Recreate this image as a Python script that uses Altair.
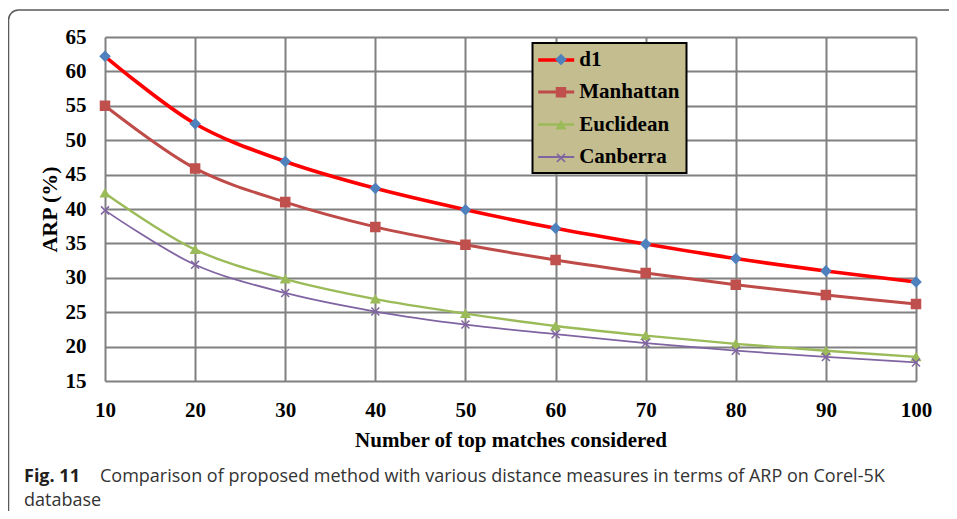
import altair as alt
import pandas as pd

# ---- data ----
top_matches = [10, 20, 30, 40, 50, 60, 70, 80, 90, 100]
series_names = ["d1", "Manhattan", "Euclidean", "Canberra"]
d1 = [62.2, 52.4, 46.9, 43.0, 39.9, 37.2, 34.9, 32.8, 31.0, 29.4]
manhattan = [55.0, 45.9, 41.0, 37.4, 34.8, 32.6, 30.7, 29.0, 27.5, 26.2]
euclidean = [42.3, 34.1, 29.8, 26.9, 24.8, 23.0, 21.6, 20.4, 19.4, 18.5]
canberra = [39.8, 31.9, 27.8, 25.1, 23.2, 21.8, 20.5, 19.4, 18.5, 17.7]
y_ticks = [15, 20, 25, 30, 35, 40, 45, 50, 55, 60, 65]

x_title = "Number of top matches considered"
y_title = "ARP (%)"
caption_bold = "Fig. 11"
caption_line1 = "Comparison of proposed method with various distance measures in terms of ARP on Corel-5K"
caption_line2 = "database"

# ---- styles ----
line_colors = ["#ff0000", "#be4b48", "#9bbb59", "#8064a2"]
line_widths = [3.6, 1.8, 2.0, 2.0]
marker_colors = ["#4f81bd", "#c0504d", "#9bbb59", "#8064a2"]
x_path = "M-1,-1L1,1M-1,1L1,-1"
marker_shapes = ["diamond", "square", "triangle-up", x_path]
marker_sizes = [90, 64, 80, 70]

serif = "Liberation Serif"
caption_font = "Open Sans"

rows = []
for name, vals in zip(series_names, [d1, manhattan, euclidean, canberra]):
    for k, v in zip(top_matches, vals):
        rows.append({"k": k, "arp": v, "series": name})
df = pd.DataFrame(rows)

W, H = 811, 344

x_enc = alt.X("k:Q", scale=alt.Scale(domain=[10, 100], nice=False, zero=False),
              axis=alt.Axis(values=top_matches, tickCount=len(top_matches), title=x_title,
                            grid=True, ticks=False, domain=False, labelPadding=18, titlePadding=9,
                            labelFont=serif, labelFontSize=21, labelFontWeight="bold",
                            labelColor="black", titleFont=serif, titleFontSize=21,
                            titleFontWeight="bold", titleColor="black",
                            labelFlush=False, labelOverlap=False))
y_enc = alt.Y("arp:Q", scale=alt.Scale(domain=[15, 65], nice=False, zero=False),
              axis=alt.Axis(values=y_ticks, tickCount=len(y_ticks), title=y_title,
                            grid=True, ticks=False, domain=False, labelPadding=19, titlePadding=4,
                            labelFont=serif, labelFontSize=21, labelFontWeight="bold",
                            labelColor="black", titleFont=serif, titleFontSize=22,
                            titleFontWeight="bold", titleColor="black",
                            labelFlush=False, labelOverlap=False))

LX, LY = 427.5, 6

leg_lines = alt.Legend(title=None, orient="none", legendX=LX, legendY=LY,
                       symbolType="M-2,0H2", symbolSize=324, symbolOffset=6.7,
                       fillColor="#c4bd8f", strokeColor="#000000",
                       padding=6, rowPadding=10.5, labelOffset=12,
                       labelFont=serif, labelFontSize=21, labelFontWeight="bold",
                       labelColor="black", labelLimit=300)
leg_points = alt.Legend(title=None, orient="none", legendX=LX, legendY=LY,
                        padding=6, rowPadding=10.8, labelOffset=4, symbolOffset=12,
                        symbolStrokeWidth=1.5, labelExpr="''",
                        labelFont=serif, labelFontSize=21, labelFontWeight="bold",
                        labelColor="transparent", labelLimit=300)

lines = alt.Chart(df).mark_line(interpolate="catmull-rom").encode(
    x=x_enc, y=y_enc,
    stroke=alt.Stroke("series:N", scale=alt.Scale(domain=series_names, range=line_colors),
                      legend=leg_lines),
    strokeWidth=alt.StrokeWidth("series:N", scale=alt.Scale(domain=series_names, range=line_widths),
                                legend=leg_lines),
    order=alt.Order("k:Q"),
)

points = alt.Chart(df).mark_point(filled=True, opacity=1, strokeWidth=1.5).encode(
    x=alt.X("k:Q"), y=alt.Y("arp:Q"),
    fill=alt.Fill("series:N", scale=alt.Scale(domain=series_names, range=marker_colors),
                  legend=leg_points),
    stroke=alt.Stroke("series:N", scale=alt.Scale(domain=series_names, range=marker_colors),
                      legend=leg_points),
    shape=alt.Shape("series:N", scale=alt.Scale(domain=series_names, range=marker_shapes),
                    legend=leg_points),
    size=alt.Size("series:N", scale=alt.Scale(domain=series_names, range=marker_sizes),
                  legend=leg_points),
)

one = pd.DataFrame({"a": [0]})
frame = alt.Chart(one).mark_rect(fill="transparent", stroke="#5a5a5a", strokeWidth=1.5,
                                 cornerRadius=10).encode(
    x=alt.value(-96.5), x2=alt.value(900), y=alt.value(-27), y2=alt.value(700))

cap_df1 = pd.DataFrame({"t": [caption_bold]})
cap_df2 = pd.DataFrame({"t": [caption_line1]})
cap_df3 = pd.DataFrame({"t": [caption_line2]})
cap1 = alt.Chart(cap_df1).mark_text(align="left", baseline="alphabetic", font=caption_font,
                                    fontSize=18, fontWeight="bold", color="#231f20").encode(
    text="t:N", x=alt.value(-81), y=alt.value(445))
cap2 = alt.Chart(cap_df2).mark_text(align="left", baseline="alphabetic", font=caption_font,
                                    fontSize=18, color="#333333").encode(
    text="t:N", x=alt.value(-5), y=alt.value(445))
cap3 = alt.Chart(cap_df3).mark_text(align="left", baseline="alphabetic", font=caption_font,
                                    fontSize=18, color="#333333").encode(
    text="t:N", x=alt.value(-81), y=alt.value(469))

chart = alt.layer(frame, lines, points, cap1, cap2, cap3).resolve_scale(
    stroke="independent", strokeWidth="independent", fill="independent",
    shape="independent", size="independent"
).properties(
    width=W, height=H,
    autosize=alt.AutoSizeParams(type="none"),
    padding={"left": 97, "top": 29, "right": 33, "bottom": 130},
    background="white",
).configure_view(strokeWidth=0).configure_axis(
    gridColor="#808080", gridWidth=2, gridOpacity=1
).configure_legend(strokeWidth=2)

chart.save("out.html", embed_options={"renderer": "svg", "actions": False})
